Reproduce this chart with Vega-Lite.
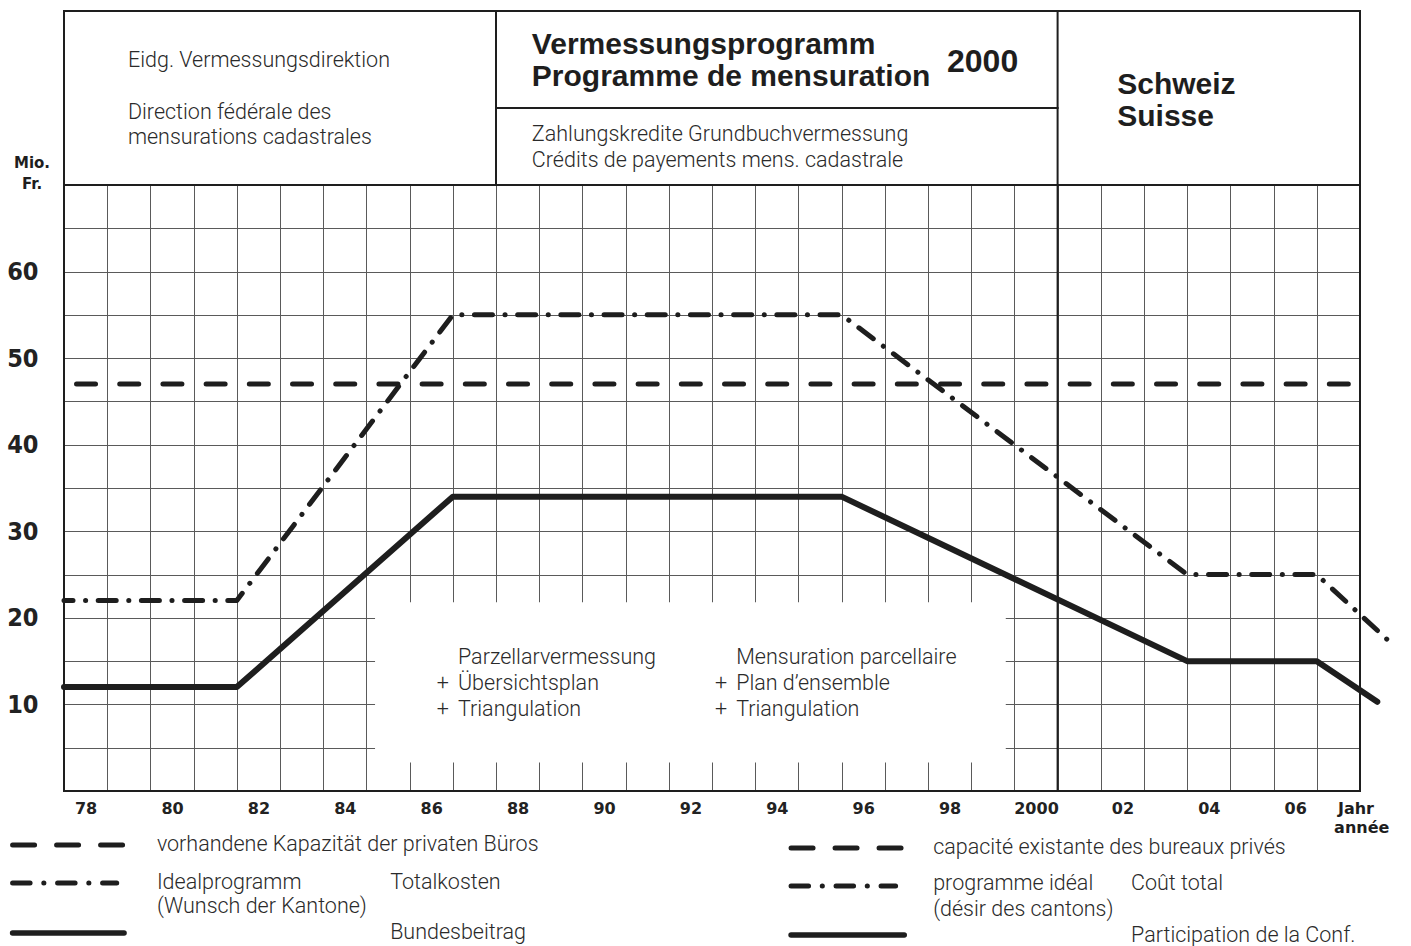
{
  "$schema": "https://vega.github.io/schema/vega-lite/v6.json",
  "width": 1296,
  "height": 606,
  "autosize": {"type": "none"},
  "padding": {"left": 64, "top": 185, "right": 51, "bottom": 155},
  "background": "white",
  "config": {"view": {"stroke": null}},
  "datasets": {
    "box": [{"x": 84.7, "x2": 99.3, "y": 3.3, "y2": 21.8}],
    "frame": [
      {"x": 77.5, "x2": 107.5, "y": 0, "y2": 0},
      {"x": 77.5, "x2": 107.5, "y": 70, "y2": 70},
      {"x": 77.5, "x2": 107.5, "y": 90.1, "y2": 90.1},
      {"x": 77.5, "x2": 77.5, "y": 0, "y2": 90.1},
      {"x": 107.5, "x2": 107.5, "y": 0, "y2": 90.1},
      {"x": 87.5, "x2": 87.5, "y": 70, "y2": 90.1},
      {"x": 87.5, "x2": 100.5, "y": 78.9, "y2": 78.9},
      {"x": 100.5, "x2": 100.5, "y": 0, "y2": 90.1}
    ],
    "lines": [
      {"series": "capacity", "year": 77.79, "value": 47},
      {"series": "capacity", "year": 107.4, "value": 47},
      {"series": "ideal", "year": 77.5, "value": 22},
      {"series": "ideal", "year": 81.5, "value": 22},
      {"series": "ideal", "year": 86.5, "value": 55},
      {"series": "ideal", "year": 95.5, "value": 55},
      {"series": "ideal", "year": 103.5, "value": 25},
      {"series": "ideal", "year": 106.5, "value": 25},
      {"series": "ideal", "year": 108.26, "value": 16.9},
      {"series": "federal", "year": 77.5, "value": 12},
      {"series": "federal", "year": 81.5, "value": 12},
      {"series": "federal", "year": 86.5, "value": 34},
      {"series": "federal", "year": 95.5, "value": 34},
      {"series": "federal", "year": 103.5, "value": 15},
      {"series": "federal", "year": 106.5, "value": 15},
      {"series": "federal", "year": 107.9, "value": 10.3}
    ],
    "legend": [
      {"series": "capacity", "x": 76.31, "x2": 78.89, "y": -6.24},
      {"series": "capacity", "x": 94.33, "x2": 96.95, "y": -6.58},
      {"series": "ideal", "x": 76.31, "x2": 78.72, "y": -10.63},
      {"series": "ideal", "x": 94.33, "x2": 96.75, "y": -10.97},
      {"series": "federal", "x": 76.31, "x2": 78.89, "y": -16.4},
      {"series": "federal", "x": 94.33, "x2": 96.95, "y": -16.63}
    ],
    "light": [
      {"t": "Eidg. Vermessungsdirektion", "x": 78.98, "y": 84.33},
      {"t": "Direction fédérale des", "x": 78.98, "y": 78.32},
      {"t": "mensurations cadastrales", "x": 78.98, "y": 75.43},
      {"t": "Zahlungskredite Grundbuchvermessung", "x": 88.33, "y": 75.78},
      {"t": "Crédits de payements mens. cadastrale", "x": 88.33, "y": 72.78},
      {"t": "Parzellarvermessung", "x": 86.62, "y": 15.36},
      {"t": "+", "x": 86.13, "y": 12.36},
      {"t": "Übersichtsplan", "x": 86.62, "y": 12.36},
      {"t": "+", "x": 86.13, "y": 9.36},
      {"t": "Triangulation", "x": 86.62, "y": 9.36},
      {"t": "Mensuration parcellaire", "x": 93.06, "y": 15.36},
      {"t": "+", "x": 92.57, "y": 12.36},
      {"t": "Plan d’ensemble", "x": 93.06, "y": 12.36},
      {"t": "+", "x": 92.57, "y": 9.36},
      {"t": "Triangulation", "x": 93.06, "y": 9.36},
      {"t": "vorhandene Kapazität der privaten Büros", "x": 79.65, "y": -6.24},
      {"t": "Idealprogramm", "x": 79.65, "y": -10.63},
      {"t": "(Wunsch der Kantone)", "x": 79.65, "y": -13.4},
      {"t": "Totalkosten", "x": 85.05, "y": -10.63},
      {"t": "Bundesbeitrag", "x": 85.05, "y": -16.4},
      {"t": "capacité existante des bureaux privés", "x": 97.62, "y": -6.58},
      {"t": "programme idéal", "x": 97.62, "y": -10.74},
      {"t": "(désir des cantons)", "x": 97.62, "y": -13.75},
      {"t": "Coût total", "x": 102.2, "y": -10.74},
      {"t": "Participation de la Conf.", "x": 102.2, "y": -16.75}
    ],
    "bold": [
      {"t": "Vermessungsprogramm", "x": 88.33, "y": 86.17},
      {"t": "Programme de mensuration", "x": 88.33, "y": 82.48},
      {"t": "Schweiz", "x": 101.88, "y": 81.55},
      {"t": "Suisse", "x": 101.88, "y": 77.86}
    ],
    "year2000": [
      {"t": "2000", "x": 97.94, "y": 84.21}
    ],
    "unitc": [
      {"t": "Mio.", "x": 76.76, "y": 72.54},
      {"t": "Fr.", "x": 76.76, "y": 70.12}
    ],
    "unitl": [
      {"t": "Jahr", "x": 106.99, "y": -2.08},
      {"t": "année", "x": 106.9, "y": -4.27}
    ]
  },
  "layer": [
    {
      "data": {"name": "box"},
      "mark": {"type": "rect", "fill": "white", "stroke": null},
      "encoding": {
        "x": {"field": "x", "type": "quantitative",
          "scale": {"domain": [77.5, 107.5], "nice": false, "zero": false},
          "axis": {
            "orient": "bottom", "title": null,
            "values": [77.5, 78.5, 79.5, 80.5, 81.5, 82.5, 83.5, 84.5, 85.5, 86.5, 87.5, 88.5, 89.5, 90.5, 91.5, 92.5, 93.5, 94.5, 95.5, 96.5, 97.5, 98.5, 99.5, 100.5, 101.5, 102.5, 103.5, 104.5, 105.5, 106.5, 107.5],
            "grid": true, "gridColor": "#5a5a5a", "gridWidth": 1, "gridOpacity": 1,
            "ticks": false, "domain": false,
            "labelExpr": "(datum.value + 0.5) % 2 == 0 && datum.value < 107 ? ((datum.value + 0.5) == 100 ? '2000' : ((datum.value + 0.5) > 100 ? '0' + (datum.value - 99.5) : '' + (datum.value + 0.5))) : ''",
            "labelOffset": 21.6, "labelPadding": 9, "labelFont": "DejaVu Sans", "labelFontWeight": "bold",
            "labelFontSize": 16, "labelColor": "#222", "labelOverlap": false, "labelFlush": false, "labelBound": false
          }},
        "x2": {"field": "x2"},
        "y": {"field": "y", "type": "quantitative",
          "scale": {"domain": [0, 70], "nice": false, "zero": false},
          "axis": {
            "title": null,
            "values": [5, 10, 15, 20, 25, 30, 35, 40, 45, 50, 55, 60, 65],
            "grid": true, "gridColor": "#5a5a5a", "gridWidth": 1, "gridOpacity": 1,
            "ticks": false, "domain": false,
            "labelExpr": "datum.value % 10 == 0 ? datum.label : ''",
            "labelFont": "DejaVu Sans Condensed, sans-serif", "labelFontWeight": "bold",
            "labelFontSize": 25, "labelColor": "#222", "labelPadding": 26, "labelOverlap": false, "labelBound": false
          }},
        "y2": {"field": "y2"}
      }
    },
    {
      "data": {"name": "frame"},
      "mark": {"type": "rule", "color": "#1e1e1e", "strokeWidth": 2, "strokeCap": "square"},
      "encoding": {
        "x": {"field": "x", "type": "quantitative", "scale": {"domain": [77.5, 107.5], "nice": false, "zero": false}},
        "x2": {"field": "x2"},
        "y": {"field": "y", "type": "quantitative", "scale": {"domain": [0, 70], "nice": false, "zero": false}},
        "y2": {"field": "y2"}
      }
    },
    {
      "data": {"name": "lines"},
      "transform": [{"filter": "datum.series == 'capacity'"}],
      "mark": {"type": "line", "color": "#1e1e1e", "strokeWidth": 5, "strokeCap": "round", "strokeDash": [19, 24.2]},
      "encoding": {
        "x": {"field": "year", "type": "quantitative", "scale": {"domain": [77.5, 107.5], "nice": false, "zero": false}},
        "y": {"field": "value", "type": "quantitative", "scale": {"domain": [0, 70], "nice": false, "zero": false}}
      }
    },
    {
      "data": {"name": "lines"},
      "transform": [{"filter": "datum.series == 'ideal'"}],
      "mark": {"type": "line", "color": "#1e1e1e", "strokeWidth": 5, "strokeCap": "round", "strokeJoin": "round", "strokeDash": [18, 12.55, 0.1, 12.55], "strokeDashOffset": 9},
      "encoding": {
        "x": {"field": "year", "type": "quantitative", "scale": {"domain": [77.5, 107.5], "nice": false, "zero": false}},
        "y": {"field": "value", "type": "quantitative", "scale": {"domain": [0, 70], "nice": false, "zero": false}}
      }
    },
    {
      "data": {"name": "lines"},
      "transform": [{"filter": "datum.series == 'federal'"}],
      "mark": {"type": "line", "color": "#1e1e1e", "strokeWidth": 6, "strokeCap": "round", "strokeJoin": "round"},
      "encoding": {
        "x": {"field": "year", "type": "quantitative", "scale": {"domain": [77.5, 107.5], "nice": false, "zero": false}},
        "y": {"field": "value", "type": "quantitative", "scale": {"domain": [0, 70], "nice": false, "zero": false}}
      }
    },
    {
      "data": {"name": "legend"},
      "transform": [{"filter": "datum.series == 'capacity'"}],
      "mark": {"type": "rule", "color": "#1e1e1e", "strokeWidth": 5, "strokeCap": "round", "strokeDash": [22, 22]},
      "encoding": {
        "x": {"field": "x", "type": "quantitative", "scale": {"domain": [77.5, 107.5], "nice": false, "zero": false}},
        "x2": {"field": "x2"},
        "y": {"field": "y", "type": "quantitative", "scale": {"domain": [0, 70], "nice": false, "zero": false}}
      }
    },
    {
      "data": {"name": "legend"},
      "transform": [{"filter": "datum.series == 'ideal'"}],
      "mark": {"type": "rule", "color": "#1e1e1e", "strokeWidth": 5, "strokeCap": "round", "strokeDash": [17.5, 13.7, 0.1, 13.7]},
      "encoding": {
        "x": {"field": "x", "type": "quantitative", "scale": {"domain": [77.5, 107.5], "nice": false, "zero": false}},
        "x2": {"field": "x2"},
        "y": {"field": "y", "type": "quantitative", "scale": {"domain": [0, 70], "nice": false, "zero": false}}
      }
    },
    {
      "data": {"name": "legend"},
      "transform": [{"filter": "datum.series == 'federal'"}],
      "mark": {"type": "rule", "color": "#1e1e1e", "strokeWidth": 5.5, "strokeCap": "round"},
      "encoding": {
        "x": {"field": "x", "type": "quantitative", "scale": {"domain": [77.5, 107.5], "nice": false, "zero": false}},
        "x2": {"field": "x2"},
        "y": {"field": "y", "type": "quantitative", "scale": {"domain": [0, 70], "nice": false, "zero": false}}
      }
    },
    {
      "data": {"name": "light"},
      "mark": {"type": "text", "align": "left", "baseline": "middle", "font": "Roboto", "fontWeight": 300, "fontSize": 21.5, "color": "#2a2a2a"},
      "encoding": {
        "x": {"field": "x", "type": "quantitative", "scale": {"domain": [77.5, 107.5], "nice": false, "zero": false}},
        "y": {"field": "y", "type": "quantitative", "scale": {"domain": [0, 70], "nice": false, "zero": false}},
        "text": {"field": "t"}
      }
    },
    {
      "data": {"name": "bold"},
      "mark": {"type": "text", "align": "left", "baseline": "middle", "font": "Liberation Sans", "fontWeight": "bold", "fontSize": 30, "color": "#1e1e1e"},
      "encoding": {
        "x": {"field": "x", "type": "quantitative", "scale": {"domain": [77.5, 107.5], "nice": false, "zero": false}},
        "y": {"field": "y", "type": "quantitative", "scale": {"domain": [0, 70], "nice": false, "zero": false}},
        "text": {"field": "t"}
      }
    },
    {
      "data": {"name": "year2000"},
      "mark": {"type": "text", "align": "left", "baseline": "middle", "font": "Liberation Sans", "fontWeight": "bold", "fontSize": 32, "color": "#1e1e1e"},
      "encoding": {
        "x": {"field": "x", "type": "quantitative", "scale": {"domain": [77.5, 107.5], "nice": false, "zero": false}},
        "y": {"field": "y", "type": "quantitative", "scale": {"domain": [0, 70], "nice": false, "zero": false}},
        "text": {"field": "t"}
      }
    },
    {
      "data": {"name": "unitc"},
      "mark": {"type": "text", "align": "center", "baseline": "middle", "font": "DejaVu Sans", "fontWeight": "bold", "fontSize": 15, "color": "#1e1e1e"},
      "encoding": {
        "x": {"field": "x", "type": "quantitative", "scale": {"domain": [77.5, 107.5], "nice": false, "zero": false}},
        "y": {"field": "y", "type": "quantitative", "scale": {"domain": [0, 70], "nice": false, "zero": false}},
        "text": {"field": "t"}
      }
    },
    {
      "data": {"name": "unitl"},
      "mark": {"type": "text", "align": "left", "baseline": "middle", "font": "DejaVu Sans", "fontWeight": "bold", "fontSize": 16, "color": "#1e1e1e"},
      "encoding": {
        "x": {"field": "x", "type": "quantitative", "scale": {"domain": [77.5, 107.5], "nice": false, "zero": false}},
        "y": {"field": "y", "type": "quantitative", "scale": {"domain": [0, 70], "nice": false, "zero": false}},
        "text": {"field": "t"}
      }
    }
  ]
}
